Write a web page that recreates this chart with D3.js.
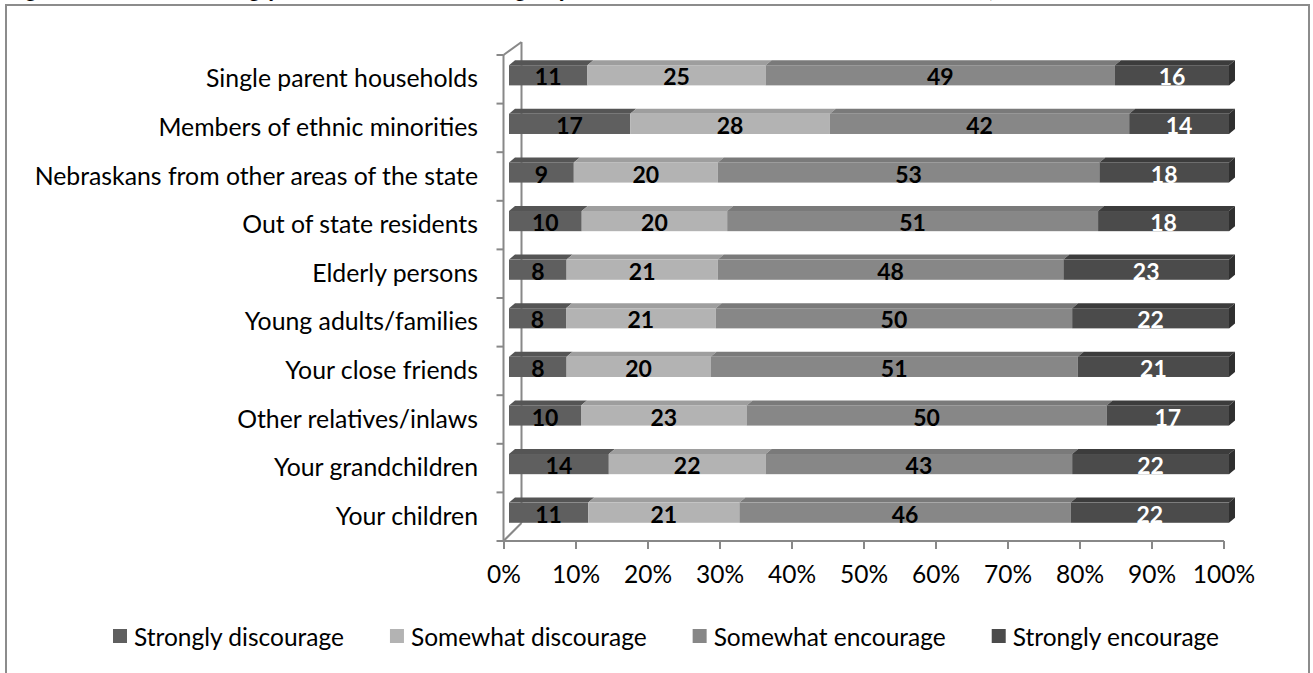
<!DOCTYPE html>
<html>
<head>
<meta charset="utf-8">
<script src="https://cdn.jsdelivr.net/npm/d3@7"></script>
<style>
  html, body { margin: 0; padding: 0; background: #ffffff; }
  svg { display: block; }
  text { font-family: Lato, "Open Sans", sans-serif; }
</style>
</head>
<body>
<svg id="chart" width="1313" height="673"></svg>
<script>
// Survey: how respondents feel about each group moving to their community (percent)
const categories = [
  "Single parent households",
  "Members of ethnic minorities",
  "Nebraskans from other areas of the state",
  "Out of state residents",
  "Elderly persons",
  "Young adults/families",
  "Your close friends",
  "Other relatives/inlaws",
  "Your grandchildren",
  "Your children"
];
const seriesNames = ["Strongly discourage", "Somewhat discourage", "Somewhat encourage", "Strongly encourage"];
const stronglyDiscourage = [11, 17, 9, 10, 8, 8, 8, 10, 14, 11];
const somewhatDiscourage = [25, 28, 20, 20, 21, 21, 20, 23, 22, 21];
const somewhatEncourage  = [49, 42, 53, 51, 48, 50, 51, 50, 43, 46];
const stronglyEncourage  = [16, 14, 18, 18, 23, 22, 21, 17, 22, 22];
const tickValues = [0, 0.1, 0.2, 0.3, 0.4, 0.5, 0.6, 0.7, 0.8, 0.9, 1.0];
const titleText = "Figure 10. Would Strongly or Somewhat Encourage by Newcomer Characteristics and Relation, Rural Nebraskans";

// Styling
const frontFill = ["#5f5f5f", "#b3b3b3", "#878787", "#4b4b4b"];
const topFill   = ["#555555", "#9e9e9e", "#7a7a7a", "#3c3c3c"];
const sideFill  = "#2f2f2f";
const labelFill = ["#000000", "#000000", "#000000", "#ffffff"];
const axisColor = "#888888";

const rows = categories.map((c, i) => ({
  category: c,
  [seriesNames[0]]: stronglyDiscourage[i],
  [seriesNames[1]]: somewhatDiscourage[i],
  [seriesNames[2]]: somewhatEncourage[i],
  [seriesNames[3]]: stronglyEncourage[i]
}));

const stacked = d3.stack().keys(seriesNames).offset(d3.stackOffsetExpand)(rows);

const svg = d3.select("#chart");

// Chart frame and the figure title above it (runs off the top of the page)
svg.append("rect")
  .attr("x", 6).attr("y", 5).attr("width", 1303).attr("height", 700)
  .attr("fill", "#ffffff").attr("stroke", "#8c8c8c").attr("stroke-width", 2);
svg.append("text")
  .attr("x", 7).attr("y", -3)
  .attr("font-size", 25).attr("font-weight", "bold").attr("font-style", "italic")
  .attr("fill", "#000")
  .text(titleText);

// Scales (front plane of the 3-D box)
const x = d3.scaleLinear().domain([0, 1]).range([504, 1224]);
const y = d3.scaleBand().domain(categories).range([55, 541]);
const wallDX = 18;                // depth of the box
const barOffX = 5, barOffY = -4;  // bars sit slightly behind the front plane
const barDX = 6, barDY = -5;      // bar thickness in depth
const barH = y.bandwidth() * 0.415;

const axisG = svg.append("g").attr("stroke", axisColor).attr("stroke-width", 2).attr("fill", "none");
const x0 = x(0) - 0.5;
// left wall: front edge, back edge and the connecting diagonals
axisG.append("line").attr("x1", x0).attr("y1", 55).attr("x2", x0).attr("y2", 541);
axisG.append("line").attr("x1", x0 + wallDX).attr("y1", 42).attr("x2", x0 + wallDX).attr("y2", 523);
axisG.append("line").attr("x1", x0).attr("y1", 55).attr("x2", x0 + wallDX).attr("y2", 42);
axisG.append("line").attr("x1", x0).attr("y1", 541).attr("x2", x0 + wallDX).attr("y2", 523);
// category tick marks at band boundaries
const bounds = categories.map(c => y(c)).concat([y.range()[1]]);
axisG.selectAll("line.ytick").data(bounds).join("line")
  .attr("class", "ytick")
  .attr("x1", x0 - 7).attr("x2", x0)
  .attr("y1", d => d).attr("y2", d => d);
// value axis
axisG.append("line").attr("x1", x0).attr("y1", 541).attr("x2", x(1)).attr("y2", 541);
axisG.selectAll("line.xtick").data(tickValues).join("line")
  .attr("class", "xtick")
  .attr("x1", d => x(d)).attr("x2", d => x(d))
  .attr("y1", 541).attr("y2", 549);

svg.append("g").selectAll("text").data(tickValues).join("text")
  .attr("x", d => x(d)).attr("y", 583)
  .attr("text-anchor", "middle")
  .attr("font-size", 24.5).attr("fill", "#000")
  .text(d => d3.format(".0%")(d));

svg.append("g").selectAll("text").data(categories).join("text")
  .attr("x", 478).attr("y", d => y(d) + y.bandwidth() / 2 - 1.5)
  .attr("text-anchor", "end").attr("dominant-baseline", "central")
  .attr("font-size", 24.8).attr("fill", "#000")
  .text(d => d);

// 3-D stacked bars
const barTop = d => y(d.data.category) + y.bandwidth() / 2 - barH / 2 + barOffY;
const bx = v => x(v) + barOffX;

stacked.forEach((series, si) => {
  const g = svg.append("g");
  // top face
  g.selectAll("path.top").data(series).join("path")
    .attr("class", "top")
    .attr("fill", topFill[si])
    .attr("d", d => {
      const t = barTop(d), a = bx(d[0]), b = bx(d[1]);
      return `M${a},${t}L${b},${t}L${b + barDX},${t + barDY}L${a + barDX},${t + barDY}Z`;
    });
  // front face
  g.selectAll("rect.front").data(series).join("rect")
    .attr("class", "front")
    .attr("fill", frontFill[si])
    .attr("x", d => bx(d[0]))
    .attr("y", d => barTop(d))
    .attr("width", d => bx(d[1]) - bx(d[0]))
    .attr("height", barH);
  // right side face on the last segment
  if (si === stacked.length - 1) {
    g.selectAll("path.side").data(series).join("path")
      .attr("class", "side")
      .attr("fill", sideFill)
      .attr("d", d => {
        const t = barTop(d), b = bx(d[1]);
        return `M${b},${t}L${b + barDX},${t + barDY}L${b + barDX},${t + barH + barDY}L${b},${t + barH}Z`;
      });
  }
  // value labels
  g.selectAll("text").data(series).join("text")
    .attr("x", d => (bx(d[0]) + bx(d[1])) / 2)
    .attr("y", d => barTop(d) + barH / 2 + 1)
    .attr("text-anchor", "middle").attr("dominant-baseline", "central")
    .attr("font-size", 23).attr("font-weight", "bold")
    .attr("fill", labelFill[si])
    .text(d => d.data[series.key]);
});

// Legend
const legend = svg.append("g");
let lx = 113;
seriesNames.forEach((name, i) => {
  legend.append("rect")
    .attr("x", lx).attr("y", 629).attr("width", 14).attr("height", 14)
    .attr("fill", frontFill[i]);
  const t = legend.append("text")
    .attr("x", lx + 21).attr("y", 636)
    .attr("dominant-baseline", "central")
    .attr("font-size", 24.5).attr("fill", "#000")
    .text(name);
  lx += 21 + t.node().getComputedTextLength() + 46;
});
</script>
</body>
</html>
